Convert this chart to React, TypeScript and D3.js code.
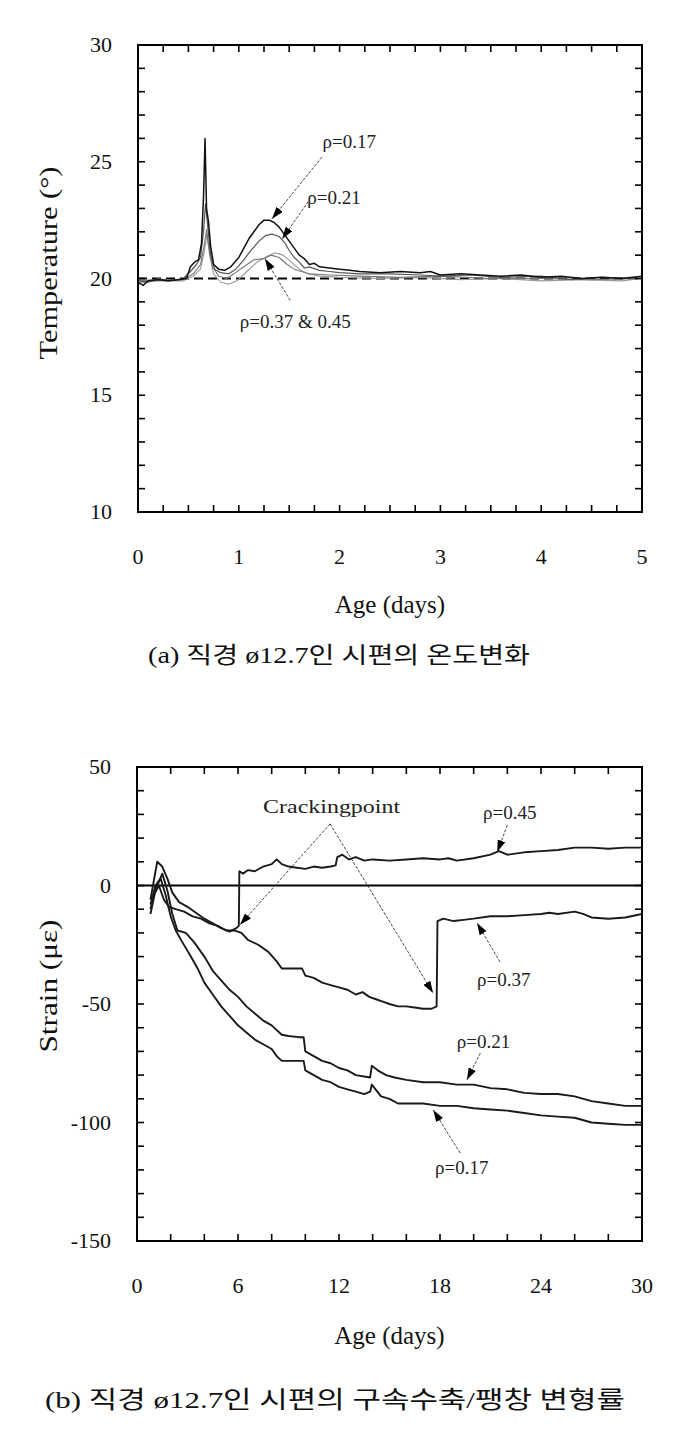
import React from 'react';
import * as d3 from 'd3';

// ---------- (a) Temperature data ----------
const tempXTicks = [0, 1, 2, 3, 4, 5];
const tempYTicks = [10, 15, 20, 25, 30];
const tempRef = 20;

const temp017: [number, number][] = [
  [0, 19.85], [0.05, 19.7], [0.1, 19.9], [0.2, 19.95], [0.3, 19.9], [0.4, 19.95], [0.48, 20.0],
  [0.52, 20.5], [0.56, 20.7], [0.6, 20.8], [0.63, 21.5], [0.65, 23.5], [0.665, 26.0], [0.68, 23.0],
  [0.7, 22.4], [0.72, 21.4], [0.75, 20.6], [0.8, 20.4], [0.86, 20.35], [0.92, 20.5], [1.0, 20.9],
  [1.05, 21.3], [1.1, 21.7], [1.15, 22.0], [1.2, 22.3], [1.25, 22.5], [1.3, 22.5], [1.35, 22.4],
  [1.4, 22.2], [1.45, 21.9], [1.5, 21.6], [1.55, 21.3], [1.6, 21.0], [1.65, 20.85], [1.7, 20.6],
  [1.75, 20.65], [1.8, 20.5], [1.9, 20.45], [2.0, 20.4], [2.1, 20.35], [2.2, 20.3], [2.4, 20.25],
  [2.6, 20.3], [2.8, 20.25], [2.9, 20.3], [3.0, 20.15], [3.2, 20.2], [3.4, 20.15], [3.6, 20.1],
  [3.8, 20.15], [4.0, 20.05], [4.2, 20.1], [4.4, 20.0], [4.6, 20.05], [4.8, 20.0], [5.0, 20.1]
];
const temp021: [number, number][] = [
  [0, 19.9], [0.1, 19.85], [0.2, 20.0], [0.3, 19.9], [0.45, 20.0], [0.52, 20.3], [0.58, 20.6],
  [0.62, 20.9], [0.65, 22.0], [0.67, 23.2], [0.69, 22.3], [0.72, 21.0], [0.76, 20.4], [0.82, 20.25],
  [0.9, 20.2], [0.97, 20.4], [1.05, 20.8], [1.12, 21.2], [1.2, 21.6], [1.27, 21.85], [1.33, 21.9],
  [1.4, 21.8], [1.46, 21.5], [1.5, 21.2], [1.55, 20.9], [1.6, 20.7], [1.65, 20.45], [1.7, 20.5],
  [1.8, 20.35], [1.9, 20.3], [2.0, 20.25], [2.2, 20.2], [2.5, 20.2], [2.8, 20.15], [3.0, 20.1],
  [3.3, 20.15], [3.6, 20.05], [4.0, 20.1], [4.3, 19.95], [4.6, 20.05], [5.0, 20.0]
];
const temp037: [number, number][] = [
  [0, 19.9], [0.2, 19.95], [0.45, 19.95], [0.55, 20.2], [0.62, 20.6], [0.66, 21.5], [0.68, 22.1],
  [0.7, 21.4], [0.74, 20.5], [0.8, 20.1], [0.88, 20.0], [0.95, 20.2], [1.05, 20.5], [1.15, 20.8],
  [1.25, 20.85], [1.32, 21.0], [1.4, 20.9], [1.48, 20.6], [1.55, 20.4], [1.62, 20.3], [1.7, 20.2],
  [1.9, 20.15], [2.2, 20.1], [2.6, 20.05], [3.0, 20.1], [3.5, 20.0], [4.0, 20.0], [4.5, 19.95], [5.0, 20.0]
];
const temp045: [number, number][] = [
  [0, 19.8], [0.2, 19.9], [0.45, 19.9], [0.55, 20.1], [0.62, 20.4], [0.66, 21.2], [0.685, 21.9],
  [0.71, 21.0], [0.75, 20.2], [0.82, 19.85], [0.9, 19.75], [0.98, 19.9], [1.08, 20.3], [1.18, 20.7],
  [1.28, 20.95], [1.36, 21.1], [1.44, 21.0], [1.52, 20.7], [1.6, 20.4], [1.68, 20.2], [1.8, 20.1],
  [2.0, 20.05], [2.4, 20.0], [2.8, 20.05], [3.2, 19.95], [3.6, 20.0], [4.0, 19.9], [4.4, 19.95],
  [4.8, 19.9], [5.0, 20.0]
];
const tempLabels = [
  { text: 'ρ=0.17', x: 1.83, y: 25.6 },
  { text: 'ρ=0.21', x: 1.68, y: 23.2 },
  { text: 'ρ=0.37 & 0.45', x: 1.01, y: 17.86 }
];
const tempArrows = [
  { from: [1.825, 25.2], to: [1.33, 22.56] },
  { from: [1.69, 23.3], to: [1.43, 21.7] },
  { from: [1.51, 19.06], to: [1.26, 20.85] }
];

// ---------- (b) Strain data ----------
const strainXTicks = [0, 6, 12, 18, 24, 30];
const strainYTicks = [-150, -100, -50, 0, 50];

const strain045: [number, number][] = [
  [0.8, -6], [1.0, 2], [1.2, 10], [1.5, 8], [1.8, 3], [2.1, -3], [2.5, -7], [3.0, -9], [3.5, -11.5],
  [4.0, -14], [4.5, -16], [5.0, -18], [5.5, -19.5], [5.9, -18], [6.05, -17], [6.08, 6], [6.3, 5],
  [6.6, 6.5], [7.0, 6], [7.5, 8], [8.0, 9], [8.3, 11], [8.6, 9], [9.0, 8], [9.5, 7.5], [10.0, 7],
  [10.5, 8], [11.0, 7.5], [11.5, 8], [11.8, 8.5], [11.9, 12], [12.2, 13], [12.6, 11], [13.0, 12],
  [13.5, 10.5], [14.0, 11], [15.0, 10.5], [16.0, 11], [17.0, 11.5], [18.0, 11], [18.5, 11.5],
  [19.0, 10.5], [20.0, 11.5], [21.0, 13], [21.5, 14.5], [22.0, 13], [23.0, 14], [24.0, 14.5],
  [25.0, 15], [26.0, 16], [27.0, 16], [28.0, 15.5], [29.0, 16], [30.0, 16]
];
const strain037: [number, number][] = [
  [0.8, -10], [1.0, -4], [1.3, 0], [1.6, -6], [1.9, -9], [2.3, -10], [2.8, -11], [3.3, -13],
  [3.8, -14], [4.3, -16], [4.8, -17], [5.3, -19], [5.8, -19], [6.2, -20], [6.6, -23], [7.2, -25],
  [7.8, -28], [8.3, -32], [8.6, -35], [9.0, -35], [9.5, -35], [9.8, -35], [10.0, -38], [10.5, -39],
  [11.0, -41], [11.5, -42], [12.0, -43], [12.5, -44], [13.0, -46], [13.4, -45], [13.8, -47],
  [14.2, -48], [14.6, -49], [15.0, -50], [15.5, -51], [16.0, -51], [16.5, -51.5], [17.0, -52],
  [17.5, -52], [17.8, -51], [17.85, -15], [18.2, -14], [18.8, -15], [19.4, -14.5], [20.0, -14],
  [21.0, -13], [22.0, -13], [23.0, -12.5], [24.0, -12], [24.5, -11.5], [25.0, -12], [26.0, -11],
  [26.5, -12], [27.0, -13.5], [28.0, -14], [29.0, -13.5], [30.0, -12]
];
const strain021: [number, number][] = [
  [0.8, -12], [1.1, -2], [1.5, 5], [1.8, -2], [2.1, -12], [2.4, -19], [2.9, -20], [3.4, -24],
  [4.0, -30], [4.5, -36], [5.0, -40], [5.5, -44], [6.0, -47], [6.5, -51], [7.0, -54], [7.5, -57],
  [8.0, -59], [8.3, -61], [8.6, -63], [9.0, -63.5], [9.6, -64], [9.9, -64], [10.0, -70], [10.5, -72],
  [11.0, -74], [11.5, -75], [12.0, -77], [12.5, -78], [13.0, -80], [13.85, -81], [13.95, -76],
  [14.3, -78], [14.8, -80], [15.3, -81], [16.0, -82], [17.0, -83], [18.0, -83], [19.0, -84],
  [20.0, -84], [21.0, -85.5], [22.0, -86], [23.0, -87.5], [24.0, -88], [25.0, -88], [26.0, -89],
  [27.0, -91], [28.0, -92], [29.0, -93], [30.0, -93]
];
const strain017: [number, number][] = [
  [0.8, -8], [1.1, 0], [1.4, 3], [1.7, -4], [2.0, -13], [2.3, -19], [2.7, -24], [3.2, -30],
  [3.6, -35], [4.0, -41], [4.5, -46], [5.0, -51], [5.5, -55], [6.0, -59], [6.5, -62], [7.0, -65],
  [7.5, -67], [8.0, -69], [8.3, -72], [8.6, -74], [9.0, -74], [9.6, -74], [9.9, -74], [10.0, -78],
  [10.5, -80], [11.0, -82], [11.5, -83], [12.0, -85], [12.5, -86], [13.0, -87], [13.5, -88],
  [13.85, -87], [13.95, -84], [14.5, -89], [15.0, -90], [15.5, -92], [16.0, -92], [17.0, -92],
  [18.0, -93], [19.0, -93], [20.0, -94], [21.0, -94.5], [22.0, -95], [23.0, -96], [24.0, -97],
  [25.0, -97.5], [26.0, -98], [27.0, -100], [28.0, -100.5], [29.0, -101], [30.0, -101]
];
const strainLabels = [
  { text: 'ρ=0.45', x: 20.56, y: 28 },
  { text: 'ρ=0.37', x: 20.2, y: -42.4 },
  { text: 'ρ=0.21', x: 19.0, y: -68.6 },
  { text: 'ρ=0.17', x: 17.7, y: -121.7 }
];
const strainArrows = [
  { from: [22.0, 25.5], to: [21.4, 14.1] },
  { from: [21.57, -32.3], to: [20.2, -15.8] },
  { from: [20.4, -70.7], to: [19.6, -82] },
  { from: [19.2, -112.9], to: [17.6, -94.7] },
  { from: [11.47, 26], to: [6.12, -16.6] },
  { from: [11.47, 26], to: [17.59, -45.4] }
];
const crackLabel = { text: 'Crackingpoint', x: 7.49, y: 30.6 };

const SERIF = "'Liberation Serif', Tinos, 'Times New Roman', Times, serif";
const KR = "'Liberation Serif', 'Noto Sans CJK KR', serif";

type Series = { data: [number, number][]; color: string; width: number; dash?: string };

function Panel(props: {
  id: string;
  left: number; right: number; top: number; bottom: number;
  xDomain: [number, number]; yDomain: [number, number];
  xTicks: number[]; yTicks: number[];
  xMinor: number; yMinor: number;
  series: Series[];
  hlines: { y: number; dash?: string; width: number }[];
  labels: { text: string; x: number; y: number }[];
  arrows: { from: number[]; to: number[] }[];
  extraText?: { text: string; x: number; y: number; len: number; size: number };
  yTitle: string; yTitleLen: number; yTitleCenter: number;
  xTitleY: number;
}) {
  const { left, right, top, bottom } = props;
  const x = d3.scaleLinear().domain(props.xDomain).range([left, right]);
  const y = d3.scaleLinear().domain(props.yDomain).range([bottom, top]);
  const line = d3.line<[number, number]>().x(d => x(d[0])).y(d => y(d[1]));
  const xm = d3.range(props.xDomain[0], props.xDomain[1] + 1e-9, props.xMinor);
  const ym = d3.range(props.yDomain[0], props.yDomain[1] + 1e-9, props.yMinor);
  const tl = 7;
  const serif = { fontFamily: SERIF };
  return (
    <g>
      <defs>
        <clipPath id={`clip-${props.id}`}>
          <rect x={left} y={top} width={right - left} height={bottom - top} />
        </clipPath>
        <marker id={`arr-${props.id}`} viewBox="0 0 12 8" refX={12} refY={4} markerWidth={12} markerHeight={8}
          markerUnits="userSpaceOnUse" orient="auto">
          <path d="M0,0 L12,4 L0,8 z" fill="#000" />
        </marker>
      </defs>
      <g clipPath={`url(#clip-${props.id})`}>
        {props.hlines.map((h, i) => (
          <line key={i} x1={left} x2={right} y1={y(h.y)} y2={y(h.y)} stroke="#000" strokeWidth={h.width}
            strokeDasharray={h.dash} />
        ))}
        {props.series.map((s, i) => (
          <path key={i} d={line(s.data) || ''} fill="none" stroke={s.color} strokeWidth={s.width}
            strokeDasharray={s.dash} strokeLinejoin="round" />
        ))}
      </g>
      {props.arrows.map((a, i) => (
        <line key={i} x1={x(a.from[0])} y1={y(a.from[1])} x2={x(a.to[0])} y2={y(a.to[1])}
          stroke="#333" strokeWidth={0.9} strokeDasharray="3,1.5" markerEnd={`url(#arr-${props.id})`} />
      ))}
      {props.labels.map((l, i) => (
        <text key={i} x={x(l.x)} y={y(l.y)} style={serif} fontSize={19} fill="#222">{l.text}</text>
      ))}
      {props.extraText && (
        <text x={x(props.extraText.x)} y={y(props.extraText.y)} style={serif}
          fontSize={props.extraText.size} textLength={props.extraText.len} lengthAdjust="spacingAndGlyphs"
          fill="#222">{props.extraText.text}</text>
      )}
      <rect x={left} y={top} width={right - left} height={bottom - top} fill="none" stroke="#000" strokeWidth={2} />
      {xm.map((v, i) => (
        <g key={'xm' + i}>
          <line x1={x(v)} x2={x(v)} y1={bottom} y2={bottom - tl} stroke="#000" strokeWidth={1.6} />
          <line x1={x(v)} x2={x(v)} y1={top} y2={top + tl} stroke="#000" strokeWidth={1.6} />
        </g>
      ))}
      {ym.map((v, i) => (
        <g key={'ym' + i}>
          <line x1={left} x2={left + tl} y1={y(v)} y2={y(v)} stroke="#000" strokeWidth={1.6} />
          <line x1={right} x2={right - tl} y1={y(v)} y2={y(v)} stroke="#000" strokeWidth={1.6} />
        </g>
      ))}
      {props.xTicks.map((v, i) => (
        <text key={'xt' + i} x={x(v)} y={bottom + 52} textAnchor="middle" style={serif} fontSize={22}
          fill="#111">{v}</text>
      ))}
      {props.yTicks.map((v, i) => (
        <text key={'yt' + i} x={left - 26} y={y(v) + 7} textAnchor="end" style={serif} fontSize={22}
          fill="#111">{v}</text>
      ))}
      <text x={(left + right) / 2} y={props.xTitleY} textAnchor="middle" style={serif} fontSize={25}
        fill="#111">Age (days)</text>
      <text transform={`translate(57,${props.yTitleCenter}) rotate(-90)`} textAnchor="middle" style={serif}
        fontSize={25} textLength={props.yTitleLen} lengthAdjust="spacingAndGlyphs" fill="#111">{props.yTitle}</text>
    </g>
  );
}

export default function App() {
  return (
    <svg width={680} height={1453} style={{ position: 'absolute', left: 0, top: 0, background: '#fff' }}>
      <rect x={0} y={0} width={680} height={1453} fill="#fff" />
      <Panel id="a" left={138} right={642} top={45} bottom={512}
        xDomain={[0, 5]} yDomain={[10, 30]} xTicks={tempXTicks} yTicks={tempYTicks}
        xMinor={0.25} yMinor={1}
        series={[
          { data: temp045, color: '#9a9a9a', width: 1.1 },
          { data: temp037, color: '#777', width: 1.1 },
          { data: temp021, color: '#555', width: 1.2 },
          { data: temp017, color: '#111', width: 1.5 }
        ]}
        hlines={[{ y: tempRef, dash: '9,5', width: 2.2 }]}
        labels={tempLabels} arrows={tempArrows}
        yTitle="Temperature (°)" yTitleLen={193} yTitleCenter={263} xTitleY={613} />
      <text x={148} y={663} style={{ fontFamily: KR }} fontSize={23} textLength={382} lengthAdjust="spacingAndGlyphs"
        fill="#111">(a)  직경 ø12.7인 시편의 온도변화</text>

      <Panel id="b" left={137} right={642} top={767} bottom={1241}
        xDomain={[0, 30]} yDomain={[-150, 50]} xTicks={strainXTicks} yTicks={strainYTicks}
        xMinor={2} yMinor={10}
        series={[
          { data: strain045, color: '#1a1a1a', width: 1.9 },
          { data: strain037, color: '#1a1a1a', width: 1.9 },
          { data: strain021, color: '#1a1a1a', width: 1.9 },
          { data: strain017, color: '#1a1a1a', width: 1.9 }
        ]}
        hlines={[{ y: 0, width: 2 }]}
        labels={strainLabels} arrows={strainArrows}
        extraText={{ ...crackLabel, len: 137, size: 18 }}
        yTitle="Strain (με)" yTitleLen={133} yTitleCenter={986} xTitleY={1344} />
      <text x={45} y={1408} style={{ fontFamily: KR }} fontSize={24} textLength={580} lengthAdjust="spacingAndGlyphs"
        fill="#111">(b)  직경 ø12.7인 시편의 구속수축/팽창 변형률</text>
    </svg>
  );
}
